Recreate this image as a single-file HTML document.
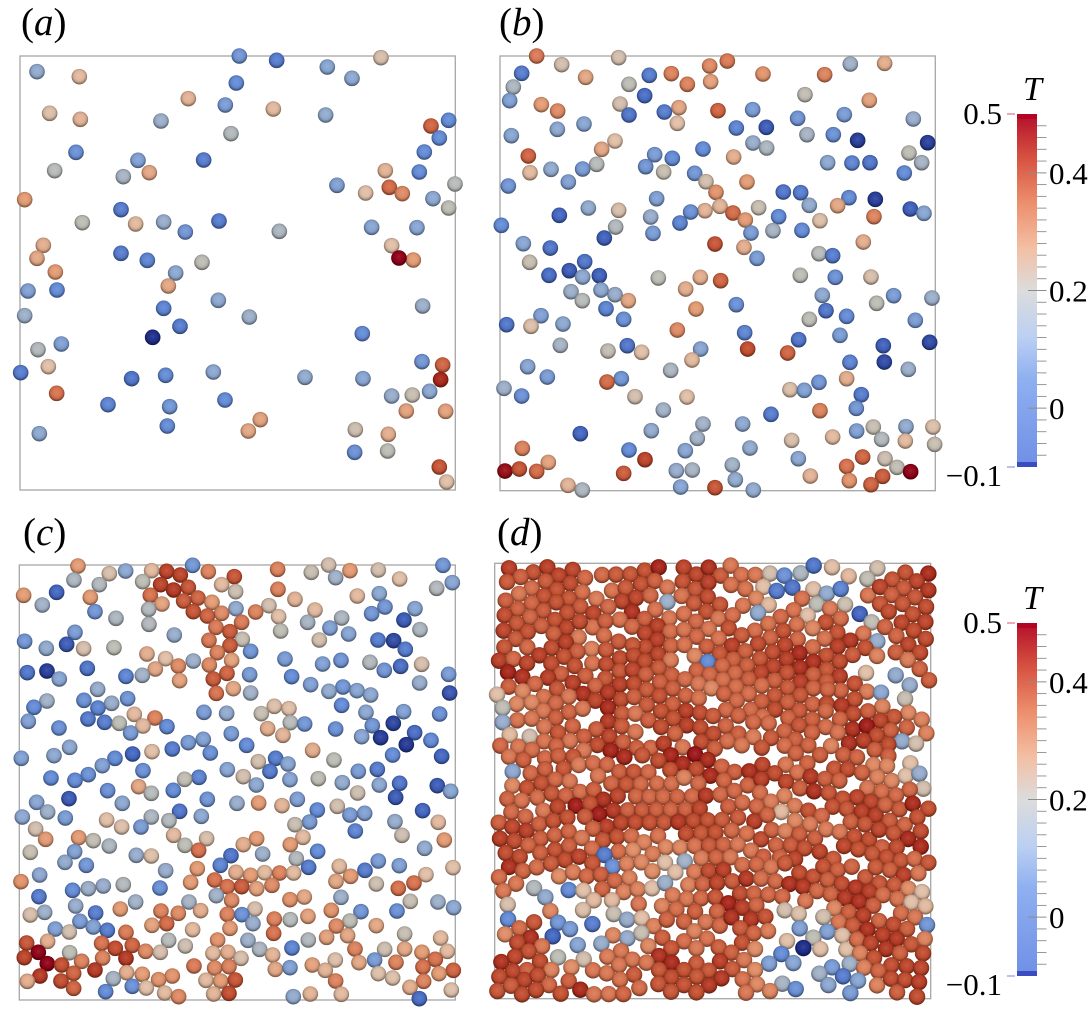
<!DOCTYPE html>
<html lang="en">
<head>
<meta charset="utf-8">
<title>Particle temperature snapshots</title>
<style>
html,body{margin:0;padding:0;background:#fff;}
#chart{display:block;width:1091px;height:1009px;font-family:"Liberation Serif",serif;}
</style>
</head>
<body>
<svg id="chart" xmlns="http://www.w3.org/2000/svg" width="1091" height="1009" viewBox="0 0 1091 1009">
<defs>
<radialGradient id="sphere-shade" cx="50%" cy="44%" r="56%">
<stop offset="0%" stop-color="#fff" stop-opacity="0.12"/>
<stop offset="40%" stop-color="#fff" stop-opacity="0.03"/>
<stop offset="68%" stop-color="#000" stop-opacity="0.08"/>
<stop offset="100%" stop-color="#000" stop-opacity="0.5"/>
</radialGradient>
<linearGradient id="bar-gradient" x1="0" y1="1" x2="0" y2="0">
<stop offset="0%" stop-color="#6f8fe6"/>
<stop offset="25%" stop-color="#8fb0f0"/>
<stop offset="37%" stop-color="#bcd0f2"/>
<stop offset="50%" stop-color="#dcdcdc"/>
<stop offset="62%" stop-color="#f3bfa4"/>
<stop offset="75%" stop-color="#ec8e6c"/>
<stop offset="88%" stop-color="#d5503f"/>
<stop offset="100%" stop-color="#b40f2a"/>
</linearGradient>
</defs>
<g id="panel-a"></g>
<g id="panel-b"></g>
<g id="panel-c"></g>
<g id="panel-d"></g>
<g id="colorbar-top"></g>
<g id="colorbar-bottom"></g>
<text x="21" y="35" font-size="39">(<tspan font-style="italic">a</tspan>)</text>
<text x="499" y="35" font-size="39">(<tspan font-style="italic">b</tspan>)</text>
<text x="23" y="545" font-size="39">(<tspan font-style="italic">c</tspan>)</text>
<text x="497" y="545" font-size="39">(<tspan font-style="italic">d</tspan>)</text>
</svg>
<script>
// Particle records: [x, y, T] in box coordinates.
var particlesA=[[718,168,.07],[830,181,.03],[982,201,.1],[1056,235,.11],[1143,173,.25],[111,215,.12],[238,230,.28],[709,249,.05],[565,296,.29],[676,315,.08],[820,327,.28],[977,345,.12],[149,340,.26],[241,358,.29],[483,363,.14],[1346,361,.05],[1293,378,.4],[1318,414,.05],[693,401,.18],[228,457,.06],[1273,456,.05],[414,481,.09],[611,480,.03],[164,512,.19],[1156,512,.29],[1258,516,.05],[448,518,.31],[370,530,.16],[1011,556,.09],[1168,562,.39],[1365,552,.19],[1207,581,.35],[1097,579,.27],[74,599,.33],[1299,596,.11],[1346,624,.2],[363,629,.03],[247,668,.2],[491,666,.13],[407,672,.28],[657,663,.03],[556,696,.07],[838,694,.17],[1115,682,.1],[1251,683,.1],[130,736,.3],[1175,737,.27],[111,775,.31],[363,760,.03],[442,781,.04],[1240,780,.33],[1197,774,.5],[606,787,.2],[166,816,.33],[527,819,.11],[505,858,.31],[84,873,.09],[171,870,.05],[655,901,.11],[1268,918,.14],[491,925,.04],[74,947,.14],[748,951,.14],[540,979,.03],[458,1012,-.1],[1087,1001,.05],[114,1049,.18],[184,1032,.09],[145,1100,.27],[1266,1085,.07],[1328,1095,.4],[62,1118,.03],[395,1136,.02],[497,1126,.05],[640,1116,.11],[915,1132,.12],[1089,1136,.1],[1322,1139,.47],[170,1180,.38],[1175,1188,.13],[1237,1185,.22],[1289,1174,.11],[324,1214,.04],[509,1220,.07],[675,1200,.05],[781,1259,.32],[745,1293,.31],[1219,1233,.32],[1337,1234,.32],[118,1301,.11],[502,1278,.05],[1066,1289,.23],[1165,1303,.3],[1064,1357,.06],[1163,1353,.2],[1318,1401,.42],[1340,1446,.27]];
var particlesB=[[170,168,.37],[416,173,.24],[742,183,.37],[689,198,.35],[245,194,.24],[1111,192,.15],[1214,190,.3],[125,220,.03],[317,232,.31],[508,226,.03],[574,221,.36],[849,222,.34],[1034,224,.36],[622,253,.36],[692,245,.32],[447,253,.2],[100,261,.17],[494,287,.01],[975,284,.21],[89,302,.09],[184,314,.33],[420,312,.24],[1168,301,.32],[233,333,.35],[597,323,.31],[714,332,.4],[553,336,.03],[818,329,.08],[447,345,.02],[1093,344,.08],[953,355,.07],[1300,357,.13],[592,370,.27],[312,372,.1],[232,388,.11],[769,384,.04],[859,382,-.02],[94,407,.1],[981,404,.16],[1060,404,.06],[819,429,.13],[860,444,.17],[405,423,.27],[1133,421,-.07],[1343,428,-.07],[365,448,.31],[669,447,.05],[1287,459,.2],[145,468,.4],[524,464,.08],[577,475,.05],[761,471,.3],[1043,488,.11],[1116,489,.04],[1170,488,.02],[1325,488,.16],[350,493,.19],[213,508,.12],[308,507,.08],[497,500,.07],[551,516,.22],[150,518,.28],[644,520,.07],[1273,519,.05],[678,545,.24],[265,546,.09],[801,546,.33],[85,558,.07],[708,577,.34],[910,576,.02],[962,578,.03],[530,596,.09],[1107,593,.05],[1186,598,-.07],[988,616,.12],[1073,617,.31],[325,624,.12],[416,631,.25],[720,619,.29],[836,623,.22],[675,632,.29],[632,636,.06],[1291,627,-.01],[1332,640,.1],[238,646,0],[759,639,.39],[512,651,.13],[796,660,.33],[896,650,.05],[1182,650,.36],[1020,662,.26],[600,669,.04],[64,676,.05],[407,681,.18],[879,692,.16],[966,691,.05],[813,699,.08],[519,700,.08],[373,714,-.01],[1150,726,.3],[130,731,.1],[705,732,.42],[211,744,.02],[792,742,.3],[1017,761,.19],[1058,767,.03],[831,775,.08],[149,787,.22],[314,785,.02],[268,812,-.02],[207,826,.01],[358,827,-.01],[308,831,.11],[535,834,.2],[661,832,.3],[961,826,.2],[1066,832,.06],[1173,831,.25],[722,842,.4],[617,867,.3],[363,870,.11],[273,875,.14],[405,884,.13],[1027,886,.11],[1241,887,.08],[1356,894,.14],[307,902,.19],[445,902,.31],[1190,910,.2],[769,914,.06],[378,926,.04],[648,927,.33],[1038,932,.02],[183,947,.09],[431,958,.06],[1100,949,.05],[988,958,.2],[1306,961,.08],[249,972,.11],[80,974,.02],[153,979,.26],[592,990,.35],[794,998,.04],[1080,1006,.08],[956,1019,.02],[1349,1027,-.05],[442,1037,.02],[1210,1037,-.01],[241,1036,.16],[662,1047,.1],[803,1047,.43],[384,1053,.21],[485,1057,.27],[923,1059,.4],[636,1080,.28],[1110,1087,.04],[1213,1086,-.05],[143,1100,.1],[572,1111,.17],[1285,1108,.14],[202,1131,.08],[424,1136,.07],[381,1146,.39],[1100,1136,.3],[1017,1147,.07],[930,1169,.26],[973,1171,.09],[72,1165,.14],[125,1188,.06],[465,1190,.24],[621,1191,.27],[1144,1184,.03],[550,1230,.15],[1129,1225,.07],[1020,1232,.36],[873,1243,.03],[669,1272,.15],[788,1272,.11],[514,1292,.12],[301,1301,0],[1180,1281,.22],[1278,1280,.12],[1359,1281,.26],[1130,1293,.09],[652,1315,.15],[1058,1311,.28],[1205,1318,.18],[935,1321,.25],[1276,1323,.28],[1364,1333,.22],[127,1345,.36],[810,1344,.12],[447,1350,.05],[616,1352,.1],[1148,1371,.4],[495,1379,.44],[1215,1376,.23],[955,1376,.11],[205,1387,.32],[757,1395,.15],[1100,1399,.38],[1251,1402,.21],[75,1413,.49],[118,1407,.42],[170,1414,.39],[431,1420,.41],[589,1412,.13],[637,1410,.16],[1292,1415,.5],[1208,1429,.41],[991,1428,.29],[766,1439,.12],[1108,1442,.34],[264,1456,.29],[1173,1454,.4],[705,1463,.42],[602,1461,.1],[307,1470,.17],[820,1470,.12]];
var particlesC=[[234,168,.33],[578,166,.07],[1329,166,.07],[833,178,.36],[986,165,.24],[500,184,.44],[541,195,.44],[455,182,.28],[625,185,.36],[377,183,.11],[328,191,.25],[934,187,.22],[1050,182,.33],[1135,180,.24],[703,200,.42],[222,210,.17],[428,215,.2],[1007,203,.15],[1199,207,.27],[1357,218,.1],[482,224,.44],[298,224,.18],[665,224,.28],[521,240,.45],[565,232,.42],[707,245,.23],[834,238,.36],[1310,235,.18],[71,256,.33],[170,247,0],[451,256,.38],[271,262,.33],[594,264,.4],[551,273,.41],[885,268,.29],[1072,258,.28],[1138,251,.11],[636,277,.33],[486,282,.32],[127,285,.15],[807,287,.24],[446,298,.18],[708,296,.12],[767,306,.36],[945,300,.28],[1155,291,.07],[1245,296,.1],[285,305,.07],[580,305,.42],[665,310,.35],[622,318,.4],[1115,311,.07],[836,320,.27],[1025,324,.17],[348,325,.17],[1212,330,-.02],[447,343,.18],[725,337,.37],[923,337,.16],[990,354,.09],[648,352,.37],[1260,359,.17],[842,363,.2],[690,365,.41],[523,375,.13],[1046,372,.1],[225,367,.08],[74,394,.07],[200,403,-.02],[727,388,.22],[627,391,.37],[958,390,.24],[1134,390,.03],[1181,392,-.05],[690,407,.41],[139,415,.12],[251,416,.25],[342,413,.2],[1216,418,.03],[652,428,.36],[752,424,.07],[441,432,.3],[497,446,.27],[855,447,.08],[695,451,.32],[580,453,.14],[1023,451,.07],[968,462,.09],[1110,457,.18],[535,468,.35],[628,465,.35],[466,477,.31],[262,475,.02],[1202,469,.01],[1265,463,.25],[1153,481,.07],[82,488,.02],[141,483,-.07],[749,494,.08],[681,490,.4],[427,496,.15],[378,499,.04],[178,507,.1],[875,500,.05],[1346,493,.08],[640,507,.41],[539,512,.32],[932,524,.09],[1259,519,.13],[700,536,.31],[293,538,.13],[1029,531,.07],[987,544,.12],[1071,542,.1],[752,549,.15],[649,550,.38],[1349,549,-.03],[1112,555,.11],[252,571,.06],[383,566,.07],[141,573,.15],[102,592,.05],[294,594,.04],[335,580,.13],[823,589,.26],[867,596,.27],[1025,586,.05],[612,607,.08],[680,610,.12],[784,611,.22],[403,613,.28],[1098,607,.11],[1211,605,.09],[1319,612,.06],[85,634,.09],[264,627,.03],[465,624,.36],[314,637,.03],[358,640,.2],[429,648,.28],[871,638,.19],[914,642,.07],[1180,640,-.06],[501,650,.05],[177,654,.06],[1117,647,.07],[803,656,.3],[1007,657,.06],[392,669,.08],[694,671,.08],[849,676,.29],[1244,668,.01],[1085,680,.1],[1142,683,-.07],[610,688,.09],[565,698,.08],[1293,691,.05],[209,712,.11],[740,706,.05],[1219,704,-.08],[517,717,.03],[938,721,.3],[456,725,.27],[631,729,.06],[64,745,.09],[162,737,.11],[398,732,0],[345,745,.05],[1178,735,.05],[1325,739,0],[775,755,.24],[827,745,.03],[864,762,.1],[1002,750,.2],[429,782,.06],[307,767,.09],[265,794,.06],[225,811,.05],[153,804,.05],[682,779,.1],[810,784,.03],[1075,784,.08],[1132,778,.03],[597,802,.04],[554,808,.21],[730,800,.24],[870,809,.1],[955,806,.2],[1027,818,.12],[1138,825,.11],[1199,820,.02],[1312,827,-.02],[1352,844,.1],[769,825,.11],[416,830,.31],[323,842,.06],[520,841,.05],[454,850,.19],[1073,849,.23],[207,866,-.02],[1187,862,-.02],[622,868,.07],[892,868,.09],[110,877,.1],[367,880,.11],[711,880,.13],[776,879,.33],[846,887,.29],[1012,889,.24],[143,906,.14],[539,904,.02],[952,900,.05],[1268,902,0],[1094,910,.09],[1050,915,.08],[67,921,.11],[196,924,.08],[604,919,.11],[454,921,.17],[320,930,.27],[1185,935,.13],[507,932,.18],[929,936,.08],[885,944,.22],[1315,937,.28],[107,957,.24],[365,951,.26],[423,951,.08],[1066,963,.04],[521,976,.28],[236,983,.33],[909,982,.28],[1206,976,.23],[770,986,.33],[620,986,.25],[137,988,.33],[1333,990,.33],[280,992,.21],[730,1004,.3],[555,1006,.2],[871,1004,.33],[328,1008,.17],[596,1021,.38],[1274,1015,.12],[953,1024,.05],[224,1025,.09],[91,1027,.22],[788,1032,.14],[693,1037,.02],[409,1036,.13],[454,1038,.26],[889,1046,.18],[1135,1053,.08],[195,1057,.12],[661,1066,.04],[926,1072,.03],[259,1066,.07],[1018,1069,.28],[1198,1067,.09],[1359,1073,.27],[592,1076,.33],[497,1082,.13],[1095,1081,.03],[708,1087,.3],[752,1096,.33],[794,1088,.28],[839,1089,.36],[881,1089,.28],[119,1095,.11],[1052,1099,.33],[1278,1094,.27],[644,1110,.38],[63,1115,.34],[572,1117,.33],[1008,1114,.31],[1242,1119,.38],[682,1130,.38],[725,1130,.41],[770,1136,.32],[816,1126,.35],[310,1128,.13],[265,1136,.14],[370,1124,.18],[1129,1122,.23],[218,1141,.05],[480,1134,.06],[1195,1135,.38],[649,1157,.15],[117,1160,.03],[1023,1162,.14],[913,1161,.31],[870,1169,.34],[695,1171,.35],[407,1176,.15],[1231,1174,.22],[1314,1176,.14],[567,1176,.16],[1361,1193,.11],[227,1188,.13],[361,1197,.33],[765,1197,.25],[994,1201,.34],[134,1207,.14],[91,1215,.25],[483,1203,.36],[287,1209,.03],[602,1202,.3],[535,1210,.35],[682,1213,.36],[1083,1205,.07],[1191,1203,.06],[726,1214,.06],[924,1219,.32],[823,1227,.36],[871,1229,.19],[240,1234,.08],[1050,1233,.2],[500,1241,.39],[456,1246,.32],[1129,1247,.31],[759,1241,.13],[1009,1248,.35],[280,1251,.09],[166,1257,.09],[690,1255,.33],[578,1259,.28],[322,1261,.03],[208,1266,.24],[378,1267,.37],[821,1270,.38],[1214,1272,.22],[1043,1277,.31],[980,1282,.32],[1322,1284,.28],[744,1291,.14],[925,1290,.18],[653,1290,.34],[506,1291,.19],[143,1294,.3],[80,1299,.42],[305,1300,.38],[346,1315,.43],[397,1306,.4],[556,1308,.23],[876,1314,.04],[1065,1317,.36],[1154,1318,.23],[1214,1317,.31],[779,1318,.17],[115,1327,.5],[437,1324,.35],[481,1327,.25],[209,1328,.2],[639,1330,.28],[684,1327,.3],[1266,1327,.33],[1342,1324,.28],[73,1343,.44],[308,1344,.36],[378,1345,.45],[723,1345,.25],[818,1335,.29],[1006,1350,.26],[1306,1348,.38],[1124,1350,.08],[1077,1358,.31],[245,1354,.36],[1188,1357,.36],[142,1361,.5],[185,1365,.43],[937,1365,.32],[582,1368,.37],[644,1374,.35],[687,1370,.36],[826,1378,.31],[870,1373,.09],[1269,1371,.38],[285,1380,.45],[976,1381,.29],[1360,1381,.4],[221,1390,.4],[380,1388,.3],[427,1393,.33],[120,1398,.45],[517,1398,.34],[1135,1391,.26],[1317,1391,.33],[340,1406,.16],[1178,1404,.26],[476,1409,.34],[618,1411,.28],[662,1413,.33],[706,1410,.42],[1007,1413,.36],[82,1414,.3],[183,1413,.43],[1271,1414,.36],[397,1429,.06],[439,1434,.27],[221,1435,.4],[1230,1432,.3],[1354,1440,.26],[494,1449,.28],[317,1445,.05],[641,1452,.29],[687,1450,.43],[931,1452,.29],[1024,1453,.28],[880,1460,.12],[536,1460,.35],[1258,1466,.01]];
var particlesD=[[87,175,.44],[160,187,.41],[202,172,.44],[122,201,.38],[278,180,.43],[236,197,.43],[315,204,.36],[366,195,.36],[408,194,.39],[451,193,.4],[494,182,.41],[536,172,.48],[611,173,.43],[649,194,.43],[686,173,.46],[722,197,.39],[752,167,.33],[784,195,.34],[826,195,.33],[870,191,.24],[913,197,.06],[962,190,.17],[1001,167,.02],[1056,172,.27],[1106,199,.28],[1192,175,.24],[1162,207,.21],[1276,188,.41],[1237,209,.4],[1345,191,.47],[1310,214,.43],[81,216,.39],[197,214,.39],[271,221,.42],[155,235,.35],[230,240,.41],[307,247,.35],[396,242,.34],[437,234,.39],[483,223,.41],[524,213,.38],[608,215,.41],[562,233,.33],[646,238,.4],[685,218,.44],[753,225,.34],[796,237,.34],[850,231,.27],[890,243,.03],[937,233,.02],[1000,238,.27],[1040,251,.12],[1082,237,.04],[1164,256,.33],[1200,231,.43],[1271,235,.39],[1345,241,.45],[117,252,.33],[77,272,.38],[192,259,.41],[155,280,.37],[267,266,.4],[229,277,.41],[349,267,.32],[426,274,.43],[468,264,.43],[511,257,.36],[562,276,.14],[605,258,.34],[642,280,.39],[683,261,.42],[720,284,.4],[828,266,.3],[789,287,.33],[866,285,.28],[966,266,.34],[1010,283,.2],[1095,284,.23],[1235,255,.38],[1305,262,.4],[1200,282,.4],[1268,282,.4],[113,297,.38],[74,316,.42],[301,290,.39],[190,303,.39],[150,322,.37],[262,309,.41],[385,291,.36],[340,310,.43],[456,306,.46],[526,299,.34],[225,330,.41],[494,327,.38],[419,329,.34],[568,325,.33],[612,312,.34],[679,305,.41],[648,335,.36],[715,326,.33],[758,316,.35],[834,309,.12],[941,301,.34],[1050,296,.32],[902,321,.36],[983,317,.27],[1139,312,0],[1082,326,.35],[1037,337,.41],[1338,291,.42],[1298,313,.41],[1226,305,.42],[1175,337,.21],[110,341,.4],[71,362,.43],[184,348,.38],[260,354,.43],[338,352,.34],[376,334,.38],[299,335,.42],[143,366,.41],[221,372,.38],[296,382,.32],[456,350,.36],[532,348,.44],[495,370,.43],[571,365,.35],[612,360,.34],[686,357,.33],[746,355,.41],[825,362,.35],[865,342,.34],[910,363,.41],[950,344,.34],[998,355,.3],[1072,368,.41],[1265,338,.43],[1336,336,.43],[1215,351,.37],[1301,362,.42],[107,387,.39],[372,377,.35],[650,380,.36],[416,395,.39],[532,390,.44],[496,412,.42],[458,406,.4],[573,408,.37],[785,376,.39],[716,386,.34],[871,384,.37],[953,388,.36],[1034,386,.34],[1150,371,.33],[1111,392,.45],[1192,394,.13],[1249,378,.37],[1337,387,.42],[73,412,.4],[142,412,.36],[215,414,.42],[257,397,.44],[335,417,.31],[378,420,.39],[292,425,.38],[178,436,.44],[252,440,.41],[613,405,.34],[680,410,.38],[756,407,.44],[834,402,.42],[915,406,.43],[796,424,.38],[998,412,.35],[1073,410,.44],[1156,414,.41],[1285,404,.43],[719,431,.4],[878,427,.42],[1118,435,.39],[958,430,.47],[1039,437,.41],[1191,438,.31],[1247,427,.38],[1320,428,.42],[644,438,.3],[57,452,.44],[100,447,.36],[141,460,.43],[214,461,.42],[337,460,.34],[379,463,.42],[420,445,.42],[461,437,.42],[534,433,.43],[494,454,.42],[572,451,.32],[683,456,.05],[760,449,.38],[840,447,.4],[920,448,.44],[1000,456,.46],[1079,455,.42],[1283,450,.32],[284,468,.41],[801,467,.38],[84,487,.48],[127,501,.46],[243,492,.38],[204,503,.44],[316,498,.38],[419,484,.4],[536,474,.39],[458,480,.43],[650,482,.37],[727,468,.36],[880,470,.43],[960,474,.46],[1040,480,.4],[1158,489,.27],[1247,496,.12],[1319,477,.37],[376,506,.4],[497,494,.38],[575,496,.38],[689,494,.36],[765,490,.36],[843,488,.43],[921,489,.41],[1000,495,.38],[1079,499,.44],[1347,511,.38],[86,530,.38],[165,522,.36],[278,519,.44],[346,528,.37],[419,524,.44],[462,522,.42],[615,508,.35],[540,517,.38],[655,522,.33],[729,510,.35],[806,508,.38],[884,512,.38],[961,516,.44],[1040,515,.39],[1124,521,.41],[1289,526,.13],[231,537,.4],[128,544,.3],[51,554,.27],[191,561,.34],[309,552,.46],[384,548,.45],[500,540,.39],[578,536,.38],[694,535,.3],[768,531,.35],[845,527,.35],[923,533,.39],[1000,535,.37],[1082,542,.37],[1161,545,.32],[1203,548,.11],[266,560,.33],[346,572,.43],[423,569,.42],[462,561,.38],[538,558,.41],[617,557,.37],[656,565,.34],[732,552,.37],[806,552,.35],[884,557,.4],[961,556,.4],[1043,539,.37],[1124,568,.41],[1275,567,.22],[110,582,.3],[155,578,.3],[227,580,.36],[68,594,.2],[384,593,.47],[500,585,.39],[578,583,.38],[770,572,.36],[845,575,.38],[923,577,.38],[998,583,.37],[1040,581,.42],[1085,587,.45],[1207,590,.31],[190,603,.33],[267,607,.37],[308,596,.33],[426,611,.39],[466,611,.33],[543,604,.41],[618,603,.44],[660,609,.42],[738,600,.36],[812,600,.36],[885,599,.42],[958,602,.39],[1037,603,.36],[1120,612,.42],[1164,604,.38],[1285,609,.3],[112,631,.34],[155,626,.33],[227,624,.38],[384,635,.45],[505,631,.38],[580,626,.41],[699,618,.39],[775,617,.37],[848,620,.35],[925,624,.37],[997,629,.38],[1080,628,.37],[1242,621,.4],[1201,632,.43],[1325,629,.31],[68,637,.13],[193,651,.33],[278,649,.37],[349,658,.38],[425,649,.39],[620,646,.44],[543,651,.42],[661,653,.42],[737,648,.37],[820,637,.36],[866,640,.35],[957,646,.4],[1037,651,.35],[1118,658,.46],[1160,648,.49],[1280,653,.37],[89,675,.28],[149,680,.24],[234,668,.4],[312,680,.38],[388,680,.43],[466,666,.33],[585,671,.37],[700,672,.42],[775,671,.38],[913,664,.37],[996,668,.37],[1073,668,.34],[1232,662,.38],[1190,677,.42],[1339,670,.31],[61,707,.36],[115,710,.33],[192,694,.34],[270,693,.33],[352,705,.42],[429,697,.38],[512,714,.36],[551,701,.44],[664,696,.42],[742,694,.35],[820,681,.32],[873,684,.39],[946,689,.38],[1107,700,.46],[1151,692,.44],[1266,694,.12],[1308,701,.24],[1225,704,.42],[229,708,.37],[156,720,.35],[311,722,.33],[392,722,.48],[470,714,.38],[608,712,.33],[704,716,.38],[785,706,.33],[845,713,.4],[914,707,.35],[985,706,.37],[1053,708,.31],[1184,720,.38],[645,733,.5],[572,736,.48],[87,740,.33],[130,750,.38],[195,745,.36],[235,738,.38],[280,740,.4],[433,741,.47],[487,736,.4],[535,752,.42],[683,750,.47],[947,730,.37],[1020,735,.38],[1090,735,.38],[1131,742,.37],[1225,738,.38],[608,762,.47],[725,770,.37],[847,765,.43],[917,764,.33],[982,760,.37],[1180,765,.3],[1221,768,.3],[1291,760,.27],[98,785,.11],[152,790,.36],[195,778,.38],[251,776,.4],[296,765,.32],[339,760,.35],[381,764,.36],[418,786,.38],[461,786,.4],[505,787,.36],[571,780,.41],[649,778,.42],[691,797,.47],[764,786,.38],[808,784,.46],[884,790,.42],[952,788,.34],[1063,776,.4],[1103,778,.42],[1146,788,.37],[992,800,.45],[1035,807,.38],[1078,812,.37],[1192,802,.31],[1235,813,.3],[1277,798,.27],[1318,791,.13],[97,827,.3],[141,834,.41],[184,820,.41],[226,809,.36],[269,814,.33],[354,798,.33],[394,821,.37],[439,824,.4],[482,823,.36],[531,821,.35],[574,822,.35],[612,803,.31],[655,821,.36],[732,812,.37],[803,826,.37],[844,808,.44],[918,816,.43],[960,835,.38],[1002,844,.46],[1162,834,.33],[1330,836,.24],[1289,839,.36],[82,867,.37],[125,872,.34],[172,863,.35],[215,851,.4],[257,857,.37],[300,846,.35],[341,840,.38],[413,858,.43],[370,869,.46],[468,859,.37],[508,861,.36],[549,861,.36],[592,861,.37],[636,859,.36],[678,857,.45],[721,854,.36],[763,843,.36],[840,849,.35],[913,858,.31],[1046,849,.4],[1131,862,.43],[1205,845,.35],[1248,856,.36],[1173,875,.43],[1088,866,.41],[94,907,.36],[190,902,.33],[233,891,.43],[287,887,.49],[330,881,.41],[400,902,.45],[357,913,.49],[443,901,.38],[486,901,.39],[529,900,.38],[572,900,.37],[616,899,.38],[659,896,.43],[745,890,.38],[787,878,.35],[830,890,.36],[873,875,.32],[944,888,.32],[985,902,.41],[904,906,.28],[1058,890,.41],[1100,897,.4],[1145,905,.44],[1187,916,.44],[1216,885,.37],[1258,898,.39],[1298,881,.47],[1345,896,.41],[56,938,.38],[97,951,.43],[136,920,.36],[139,963,.44],[177,943,.38],[220,933,.41],[262,923,.41],[315,920,.39],[380,950,.44],[423,939,.43],[466,938,.42],[509,938,.41],[552,938,.4],[595,936,.45],[640,933,.42],[683,931,.41],[726,930,.39],[774,923,.39],[823,934,.44],[862,915,.37],[945,933,.3],[1025,918,.36],[990,943,.32],[1112,936,.38],[1155,943,.4],[1229,933,.39],[1274,945,.37],[1312,922,.41],[60,986,.44],[103,993,.42],[182,986,.38],[224,976,.37],[266,965,.37],[339,956,.37],[305,984,.33],[369,991,.4],[411,981,.41],[454,979,.35],[492,997,.31],[534,978,.34],[618,972,.42],[663,970,.4],[706,968,.41],[755,962,.36],[800,971,.34],[843,988,.42],[875,960,.37],[916,964,.31],[958,973,.38],[1005,985,.38],[1038,958,.32],[1079,966,.33],[1123,980,.41],[1167,989,.42],[1197,959,.43],[1241,970,.4],[1284,987,.47],[1322,964,.42],[145,1006,.37],[225,1020,.41],[267,1008,.38],[336,1016,.35],[415,1025,.35],[459,1021,.29],[373,1035,.03],[557,1012,.3],[600,1013,.3],[644,1008,.34],[687,1007,.39],[730,1005,.37],[773,1004,.33],[813,1022,.33],[888,1006,.37],[932,1006,.39],[973,1015,.41],[1019,1025,.43],[1092,1008,.43],[1135,1018,.41],[1206,1012,.38],[1250,1012,.42],[1322,1010,.47],[77,1029,.42],[119,1041,.42],[181,1029,.38],[255,1050,.42],[297,1040,.43],[518,1032,.32],[850,1040,.38],[900,1042,.37],[945,1047,.43],[1060,1047,.39],[1177,1032,.4],[1220,1042,.41],[1262,1052,.4],[1303,1047,.35],[1345,1058,.4],[87,1071,.46],[129,1083,.37],[170,1072,.35],[213,1061,.39],[337,1060,.4],[398,1070,.06],[440,1062,.31],[484,1057,.3],[555,1058,.27],[614,1054,.15],[664,1045,.32],[708,1043,.37],[751,1042,.33],[237,1099,.29],[279,1087,.32],[320,1099,.36],[362,1094,.38],[404,1112,.36],[448,1104,.31],[517,1084,.29],[586,1087,.27],[643,1086,.32],[686,1083,.42],[730,1080,.44],[787,1065,.35],[830,1064,.36],[873,1072,.33],[915,1060,.39],[958,1089,.42],[1000,1100,.41],[1030,1070,.41],[1073,1080,.38],[1115,1070,.37],[1156,1102,.39],[1187,1072,.39],[1230,1080,.38],[1271,1095,.44],[1315,1090,.33],[57,1102,.35],[108,1121,.33],[70,1143,.33],[162,1134,.18],[266,1140,.05],[310,1142,.27],[367,1137,.37],[431,1146,.31],[473,1138,.31],[516,1135,.27],[555,1119,.14],[625,1125,.31],[668,1123,.37],[711,1119,.43],[757,1114,.39],[799,1106,.45],[843,1106,.35],[886,1114,.36],[928,1122,.46],[969,1130,.45],[1011,1143,.36],[1043,1110,.38],[1085,1122,.42],[1127,1133,.45],[1198,1120,.4],[1168,1145,.44],[1243,1125,.39],[1285,1136,.29],[1326,1146,.27],[83,1184,.25],[196,1162,.12],[341,1171,.28],[396,1171,.28],[476,1182,.33],[578,1156,.32],[620,1167,.33],[663,1165,.36],[706,1162,.4],[780,1151,.42],[822,1151,.37],[865,1154,.36],[907,1160,.36],[976,1173,.33],[1052,1153,.37],[1095,1164,.45],[1137,1175,.46],[1209,1155,.35],[1252,1167,.34],[1294,1178,.27],[1336,1189,.28],[211,1203,.3],[309,1200,.26],[546,1188,.31],[589,1198,.35],[645,1205,.38],[745,1180,.48],[787,1193,.44],[829,1186,.37],[711,1205,.37],[914,1201,.24],[956,1212,.26],[1063,1195,.3],[1106,1207,.38],[1180,1187,.38],[1150,1217,.44],[1263,1210,.35],[1305,1222,.33],[84,1228,.05],[162,1237,.4],[234,1238,.07],[337,1242,.03],[401,1212,.22],[441,1229,.13],[485,1225,.27],[521,1248,.31],[560,1229,.37],[612,1235,.37],[677,1236,.33],[719,1247,.36],[754,1222,.46],[813,1228,.45],[856,1220,.41],[781,1255,.39],[1030,1221,.24],[1076,1237,.33],[1118,1247,.39],[1197,1233,.37],[1240,1244,.42],[1341,1245,.07],[118,1255,.35],[270,1257,.08],[75,1273,.29],[152,1283,.46],[218,1279,0],[399,1276,.3],[442,1285,.13],[484,1270,.22],[547,1283,.38],[643,1264,.31],[681,1286,.34],[821,1270,.37],[864,1263,.32],[959,1255,.09],[1042,1265,.09],[1000,1283,.2],[1087,1277,.27],[1162,1259,.46],[1208,1275,.44],[1281,1257,.38],[1250,1287,.45],[112,1298,.42],[186,1309,.33],[293,1305,.1],[364,1301,.13],[505,1308,.3],[612,1294,.35],[716,1312,.38],[786,1298,.41],[825,1317,.29],[921,1293,.27],[970,1314,-.1],[1021,1317,.27],[1099,1319,.27],[1131,1289,.35],[1172,1300,.43],[1294,1303,.4],[1334,1287,.31],[1218,1317,.45],[146,1324,.41],[105,1340,.43],[423,1323,.33],[574,1315,.4],[649,1315,.33],[234,1342,.2],[311,1348,.24],[382,1340,.32],[537,1338,.46],[754,1328,.38],[792,1350,.33],[904,1332,.05],[1140,1330,.31],[1182,1344,.41],[1260,1330,.38],[1329,1330,.42],[64,1356,.46],[180,1354,.42],[457,1349,.33],[499,1358,.33],[575,1358,.47],[649,1360,.39],[720,1354,.44],[867,1361,.09],[940,1359,.1],[1056,1372,.08],[1109,1362,.15],[1152,1373,.31],[1234,1366,.42],[1280,1369,.43],[1323,1374,.43],[99,1384,.43],[141,1380,.38],[214,1380,.31],[274,1372,.29],[339,1381,.33],[380,1390,.33],[417,1365,.33],[462,1394,.39],[537,1380,.4],[612,1380,.41],[686,1382,.4],[650,1400,.4],[757,1377,.39],[825,1380,.29],[1018,1391,.15],[1089,1399,.03],[1195,1383,.37],[58,1400,.42],[133,1410,.43],[173,1396,.42],[207,1425,.36],[266,1413,.38],[420,1409,.34],[574,1402,.42],[535,1422,.4],[612,1425,.41],[724,1405,.45],[687,1426,.45],[788,1408,.34],[831,1423,.3],[907,1421,.16],[1134,1412,.1],[1045,1425,.11],[1191,1426,.31],[1233,1406,.42],[1275,1410,.42],[1317,1416,.44],[52,1443,.4],[93,1427,.39],[126,1453,.42],[168,1440,.42],[242,1451,.41],[301,1439,.47],[342,1453,.33],[386,1452,.33],[430,1452,.37],[478,1434,.35],[573,1445,.4],[649,1447,.41],[798,1448,.33],[870,1443,.3],[947,1437,.06],[1111,1449,.08],[1251,1447,.38],[1311,1460,.42]];
// Colour scale: temperature breakpoints and matching sphere colours.
var colorTemps=[-0.1,0,0.05,0.1,0.15,0.2,0.27,0.33,0.38,0.43,0.47,0.5];
var colorHex=["#1c2c88","#4265c0","#628ad6","#86a4d2","#a0b0c6","#bcbcb4","#e0bea6","#e39a72","#d7704c","#c24c2e","#a82518","#8e0015"];
// Colour-bar tick labels.
var barTickValues=[0.4,0.2,0];
var barTickLabels=["0.4","0.2","0"];
var barMin=-0.1;
var barMax=0.5;
var NS="http://www.w3.org/2000/svg";
function hexRgb(h){return [parseInt(h.substr(1,2),16),parseInt(h.substr(3,2),16),parseInt(h.substr(5,2),16)];}
function colorScale(t){
  if(t<=colorTemps[0])return colorHex[0];
  for(var i=1;i<colorTemps.length;i++){
    if(t<=colorTemps[i]){
      var f=(t-colorTemps[i-1])/(colorTemps[i]-colorTemps[i-1]);
      var a=hexRgb(colorHex[i-1]),b=hexRgb(colorHex[i]);
      return "rgb("+Math.round(a[0]+(b[0]-a[0])*f)+","+Math.round(a[1]+(b[1]-a[1])*f)+","+Math.round(a[2]+(b[2]-a[2])*f)+")";
    }
  }
  return colorHex[colorHex.length-1];
}
function linear(d0,d1,r0,r1){return function(v){return r0+(v-d0)/(d1-d0)*(r1-r0);};}
function mk(parent,tag,attrs){
  var el=document.createElementNS(NS,tag);
  for(var k in attrs){el.setAttribute(k,attrs[k]);}
  parent.appendChild(el);
  return el;
}
function drawPanel(id,data,xDom,yDom,box,radius,warmGain){
  var g=document.getElementById(id);
  var sx=linear(xDom[0],xDom[1],box.x0,box.x1);
  var sy=linear(yDom[0],yDom[1],box.y0,box.y1);
  var frame=mk(g,"rect",{x:box.x0,y:box.y0,width:box.x1-box.x0,height:box.y1-box.y0,fill:"none",stroke:"#a6a6a6","stroke-width":1.3});
  
  
  data.forEach(function(p){
    var pg=mk(g,"g",{});
    
    
    var cx=sx(p[0]),cy=sy(p[1]);
    var t=(warmGain&&p[2]>0.28)?0.4+(p[2]-0.37)*warmGain:p[2];
    mk(pg,"circle",{cx:cx,cy:cy,r:radius,fill:colorScale(t)});
    mk(pg,"circle",{cx:cx,cy:cy,r:radius,fill:"url(#sphere-shade)"});
  });
}
function drawColorbar(id,top){
  var g=document.getElementById(id);
  var x0=1017,x1=1037,h=353;
  var sy=linear(barMax,barMin,top,top+h);
  var bar=mk(g,"rect",{x:x0,y:top,width:x1-x0,height:h,fill:"url(#bar-gradient)"});
  
  
  var under=mk(g,"rect",{x:x0,y:sy(barMin)-5,width:x1-x0,height:5,fill:"#3b4cc0"});
  
  
  var over=mk(g,"rect",{x:x0,y:top,width:x1-x0,height:5,fill:"#b40426"});
  
  
  for(var i=1;i<30;i++){
    var v=barMin+i*0.02;
    var major=(i===5||i===15||i===25);
    var tick=mk(g,"line",{x1:major?1028:1037,x2:1046.5,y1:sy(v),y2:sy(v),stroke:"#8c8c8c","stroke-width":major?1:0.9});
    
    
  }
  var topTick=mk(g,"line",{x1:1007,x2:1015,y1:sy(barMax),y2:sy(barMax),stroke:"#e0506a","stroke-width":1});
  
  
  var botTick=mk(g,"line",{x1:1007,x2:1015,y1:sy(barMin),y2:sy(barMin),stroke:"#7a86d8","stroke-width":1});
  
  
  barTickValues.forEach(function(v,i){
    var t=mk(g,"text",{x:1049,y:sy(v)+11,"font-size":31});
    t.textContent=barTickLabels[i];
    
    
  });
  var maxL=mk(g,"text",{x:1002,y:sy(barMax)+10,"font-size":31,"text-anchor":"end"});
  maxL.textContent=barMax.toFixed(1);
  
  
  var minL=mk(g,"text",{x:1002,y:sy(barMin)+19,"font-size":31,"text-anchor":"end"});
  minL.textContent="\u22120.1";
  
  
  var title=mk(g,"text",{x:1023,y:top-14,"font-size":34,"font-style":"italic"});
  title.textContent="T";
  
  
}
drawPanel("panel-a",particlesA,[60,1366],[168,1470],{x0:20,x1:455.3,y0:56,y1:490},7.8,0);
drawPanel("panel-b",particlesB,[60,1366],[168,1472],{x0:500,x1:935.3,y0:56,y1:490.7},7.8,0);
drawPanel("panel-c",particlesC,[58,1366],[165,1470],{x0:19.3,x1:455.3,y0:565,y1:1000},7.8,0);
drawPanel("panel-d",particlesD,[44,1352],[160,1466],{x0:494.7,x1:930.7,y0:563.3,y1:998.7},8.2,0.65);
drawColorbar("colorbar-top",114);
drawColorbar("colorbar-bottom",623);
</script>
</body>
</html>
